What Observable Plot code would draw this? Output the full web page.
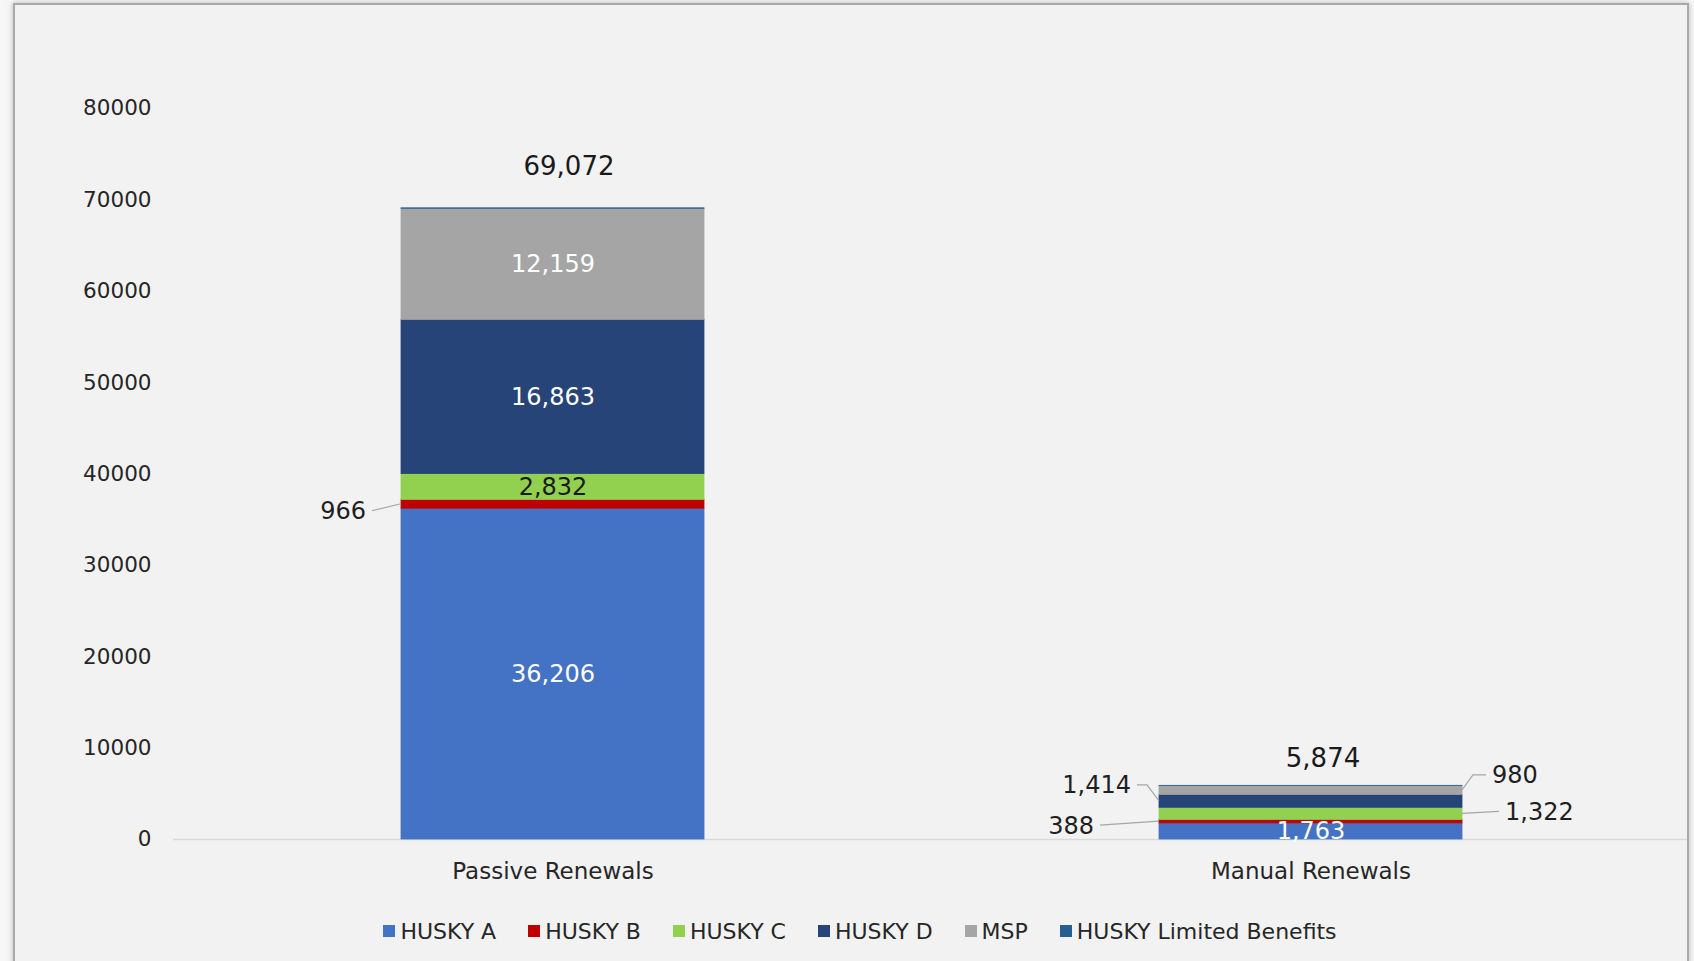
<!DOCTYPE html>
<html><head><meta charset="utf-8">
<script src="https://cdn.jsdelivr.net/npm/d3@7"></script>
<script src="https://cdn.jsdelivr.net/npm/@observablehq/plot@0.6"></script>
<style>
html,body{margin:0;padding:0;background:#f7f7f7;width:1694px;height:961px;overflow:hidden;font-family:"DejaVu Sans",sans-serif;}
#frame{position:absolute;left:13px;top:3px;width:1672px;height:1000px;border:2px solid #a9a9a9;background:#f2f2f2;box-shadow:0 0 6px rgba(0,0,0,0.25);}
#frameEdge{position:absolute;left:13px;top:3px;width:1672px;height:1000px;border:2px solid #a9a9a9;background:transparent;pointer-events:none;}
#chart{position:absolute;left:0;top:0;}
#legend{position:absolute;left:0;top:918px;width:1694px;height:26px;display:flex;justify-content:center;align-items:center;padding-left:26px;box-sizing:border-box;font-size:22px;color:#262626;}
.item{display:flex;align-items:center;margin-right:32px;white-space:nowrap}
.item:last-child{margin-right:0}
.sw{width:12px;height:12px;margin-right:5px;flex:none}
</style></head><body>
<div id="frame"></div>
<div id="chart"></div>
<div id="legend"></div>
<div id="frameEdge"></div>
<script>
// ---- data ----
const categories = ["Passive Renewals", "Manual Renewals"];
const seriesNames = ["HUSKY A", "HUSKY B", "HUSKY C", "HUSKY D", "MSP", "HUSKY Limited Benefits"];
const passiveValues = [36206, 966, 2832, 16863, 12159, 46];
const manualValues = [1763, 388, 1322, 1414, 980, 7];
const yTicks = [0, 10000, 20000, 30000, 40000, 50000, 60000, 70000, 80000];
const seriesColors = ["#4472C4", "#C00000", "#92D050", "#264478", "#A5A5A5", "#255E91"];

// ---- label layout (annotation placement, not data) ----
const insideWhite = [["Passive Renewals", "HUSKY A"], ["Passive Renewals", "HUSKY D"], ["Passive Renewals", "MSP"], ["Manual Renewals", "HUSKY A"]];
const insideBlack = [["Passive Renewals", "HUSKY C"]];
const totalPlacement = [
  {category: "Passive Renewals", dx: 16, dy: -42},
  {category: "Manual Renewals", dx: 12, dy: -27}
];
const outsidePlacement = [
  {category: "Passive Renewals", series: "HUSKY B", side: "left", gap: 35, dy: 7, elbow: 0},
  {category: "Manual Renewals", series: "HUSKY D", side: "left", gap: 28, dy: -16, elbow: 12},
  {category: "Manual Renewals", series: "HUSKY B", side: "left", gap: 65, dy: 4, elbow: 0},
  {category: "Manual Renewals", series: "MSP", side: "right", gap: 30, dy: -15, elbow: 11},
  {category: "Manual Renewals", series: "HUSKY C", side: "right", gap: 43, dy: -2, elbow: 0}
];

const valuesByCat = [passiveValues, manualValues];
const rows = [];
categories.forEach((c, ci) => seriesNames.forEach((s, si) => rows.push({category: c, series: s, value: valuesByCat[ci][si]})));
const totals = categories.map((c, ci) => ({category: c, total: d3.sum(valuesByCat[ci])}));
const fmt = d3.format(",");
const has = (list, d) => list.some(([c, s]) => c === d.category && s === d.series);

function outsideLabels(index, scales) {
  const x = scales.x, y = scales.y;
  const bw = typeof x.bandwidth === "function" ? x.bandwidth() : (scales.scales && scales.scales.x.bandwidth) || 0;
  const g = d3.create("svg:g");
  for (const p of outsidePlacement) {
    const ci = categories.indexOf(p.category);
    const si = seriesNames.indexOf(p.series);
    const vals = valuesByCat[ci];
    const lo = d3.sum(vals.slice(0, si)), hi = lo + vals[si];
    const ym = (y(lo) + y(hi)) / 2;
    const sgn = p.side === "left" ? -1 : 1;
    const edge = x(p.category) + (sgn < 0 ? 0 : bw);
    const ly = ym + p.dy;
    const pts = [[edge, ym]];
    if (p.elbow) pts.push([edge + sgn * p.elbow, ly]);
    pts.push([edge + sgn * (p.gap - 6), ly]);
    g.append("path").attr("d", d3.line()(pts)).attr("fill", "none").attr("stroke", "#a6a6a6").attr("stroke-width", 1.2);
    g.append("text")
      .attr("x", edge + sgn * p.gap).attr("y", ly).attr("dy", "0.35em")
      .attr("text-anchor", sgn < 0 ? "end" : "start")
      .attr("font-size", 24).attr("fill", "#1f1f1f")
      .text(fmt(vals[si]));
  }
  return g.node();
}

const chart = Plot.plot({
  width: 1694,
  height: 900,
  marginLeft: 173,
  marginRight: 4,
  marginTop: 108,
  marginBottom: 61,
  style: {background: "transparent", fontFamily: "DejaVu Sans, sans-serif", overflow: "visible"},
  x: {domain: categories, paddingInner: 0.6, paddingOuter: 0.3},
  y: {domain: [0, 80000]},
  color: {domain: seriesNames, range: seriesColors},
  marks: [
    Plot.ruleY([0], {stroke: "#d9d9d9", strokeWidth: 1.5}),
    Plot.barY(rows, {x: "category", y: "value", fill: "series", stroke: "series", strokeWidth: 0.8}),
    Plot.axisY({ticks: yTicks, tickSize: 0, tickPadding: 22, tickFormat: d => String(d), fontSize: 21.5, label: null, color: "#262626"}),
    Plot.axisX({tickSize: 0, tickPadding: 23, fontSize: 23, label: null, color: "#262626"}),
    Plot.text(rows, Plot.stackY({x: "category", y: "value", text: d => has(insideWhite, d) ? fmt(d.value) : "", fill: "white", fontSize: 24})),
    Plot.text(rows, Plot.stackY({x: "category", y: "value", text: d => has(insideBlack, d) ? fmt(d.value) : "", fill: "#1a1a1a", fontSize: 24})),
    ...totalPlacement.map(p => Plot.text(totals.filter(t => t.category === p.category), {x: "category", y: "total", text: d => fmt(d.total), dx: p.dx, dy: p.dy, fontSize: 26, fill: "#1a1a1a"})),
    outsideLabels
  ]
});
document.getElementById("chart").appendChild(chart);

const legend = document.getElementById("legend");
seriesNames.forEach((s, i) => {
  const it = document.createElement("div");
  it.className = "item";
  it.innerHTML = `<span class="sw" style="background:${seriesColors[i]}"></span><span>${s}</span>`;
  legend.appendChild(it);
});
</script>
</body></html>
